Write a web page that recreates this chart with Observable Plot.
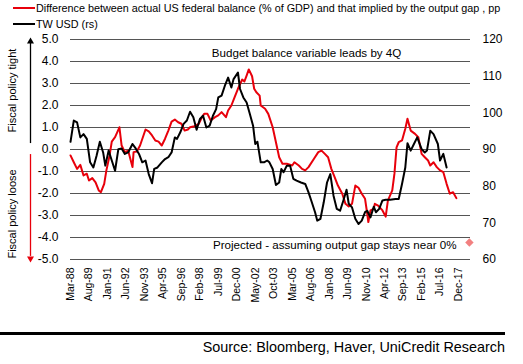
<!DOCTYPE html>
<html><head><meta charset="utf-8">
<script src="https://cdn.jsdelivr.net/npm/d3@7"></script>
<script src="https://cdn.jsdelivr.net/npm/@observablehq/plot@0.6"></script>
<style>
body{margin:0;background:#fff;font-family:"Liberation Sans",Arial,sans-serif;}
#wrap{position:relative;width:523px;height:364px;overflow:hidden;background:#fff}
.leg{position:absolute;left:13px;font-size:10.8px;line-height:14px;white-space:nowrap;color:#000}
.leg i{display:inline-block;width:22px;height:2px;vertical-align:middle;margin-right:1px;position:relative;top:-1px}
#chart{position:absolute;left:0;top:30px}
#rule{position:absolute;left:0;top:332px;width:505px;height:3px;background:#000}
#src{position:absolute;right:18px;top:339px;font-size:14.4px;line-height:16px;white-space:nowrap}
</style>
</head>
<body>
<div id="wrap">
  <div class="leg" style="top:1px"><i style="background:#e8000b"></i>Difference between actual US federal balance (% of GDP) and that implied by the output gap , pp</div>
  <div class="leg" style="top:17px"><i style="background:#000"></i>TW USD (rs)</div>
  <div id="chart"></div>
  <div id="rule"></div>
  <div id="src">Source: Bloomberg, Haver, UniCredit Research</div>
</div>
<script>
// ---- data ----
const fiscalDates = ["1988-03","1988-06","1988-09","1988-12","1989-03","1989-06","1989-08","1989-11","1990-02","1990-05","1990-07","1990-10","1990-12","1991-03","1991-05","1991-08","1991-12","1992-02","1992-05","1992-08","1992-12","1993-01","1993-04","1993-07","1993-12","1994-03","1994-06","1994-09","1994-12","1995-03","1995-06","1995-09","1995-12","1996-03","1996-06","1996-09","1996-12","1997-03","1997-05","1997-09","1998-01","1998-04","1998-06","1998-09","1998-12","1999-04","1999-07","1999-10","2000-02","2000-04","2000-07","2000-10","2001-01","2001-05","2001-07","2001-09","2001-11","2002-02","2002-04","2002-06","2002-09","2002-10","2003-02","2003-05","2003-09","2003-12","2004-03","2004-06","2004-10","2005-03","2005-05","2005-09","2005-12","2006-03","2006-06","2006-11","2007-03","2007-06","2007-09","2007-12","2008-03","2008-06","2008-09","2009-01","2009-04","2009-07","2009-10","2010-01","2010-04","2010-07","2010-10","2010-12","2011-01","2011-03","2011-06","2011-07","2011-10","2012-02","2012-05","2012-07","2012-11","2013-01","2013-03","2013-05","2013-08","2013-11","2014-01","2014-04","2014-08","2014-11","2015-02","2015-05","2015-08","2015-10","2016-01","2016-04","2016-07","2016-10","2017-01","2017-04","2017-07","2017-10"];
const fiscalValues = [-0.27,-0.58,-0.88,-0.70,-1.18,-1.10,-1.41,-1.30,-1.49,-1.86,-1.94,-1.56,-0.95,-0.27,0.36,0.56,1.01,0.18,-0.12,-0.05,-0.80,-0.12,-0.09,0.18,0.91,0.82,0.64,0.41,0.36,0.18,0.49,0.86,1.27,1.36,1.24,1.17,0.86,0.91,1.01,1.06,1.17,1.47,1.62,1.62,1.32,1.47,1.55,1.70,1.47,1.77,2.00,2.38,2.76,3.18,3.09,3.36,3.64,3.33,2.76,2.60,2.45,2.00,1.85,1.62,1.01,0.33,-0.35,-0.65,-0.65,-0.73,-0.58,-0.73,-0.88,-0.95,-0.80,-0.42,-0.12,-0.05,-0.20,-0.35,-0.88,-1.26,-1.64,-2.01,-2.47,-2.59,-2.47,-1.64,-1.74,-2.01,-2.24,-2.92,-3.30,-2.77,-2.70,-2.47,-2.55,-2.77,-3.05,-2.32,-1.86,-1.10,0.10,0.33,0.41,0.94,1.40,0.86,0.71,0.56,-0.20,-0.35,-0.50,-0.73,-0.58,-0.80,-0.95,-1.03,-1.56,-2.01,-1.94,-2.21];

const usdDates = ["1988-03","1988-06","1988-09","1988-12","1989-03","1989-06","1989-09","1989-12","1990-03","1990-06","1990-09","1990-11","1991-02","1991-05","1991-08","1991-11","1992-02","1992-05","1992-08","1992-12","1993-03","1993-06","1993-09","1993-12","1994-03","1994-06","1994-08","1994-11","1995-03","1995-06","1995-09","1995-12","1996-03","1996-05","1996-08","1996-11","1997-02","1997-05","1997-08","1997-11","1998-02","1998-05","1998-08","1998-11","1999-02","1999-05","1999-07","1999-10","2000-01","2000-04","2000-07","2000-09","2001-01","2001-03","2001-06","2001-09","2001-12","2002-03","2002-05","2002-07","2002-10","2003-01","2003-04","2003-06","2003-09","2003-12","2004-03","2004-05","2004-07","2004-10","2005-01","2005-04","2005-07","2005-11","2006-03","2006-06","2006-09","2006-12","2007-02","2007-05","2007-08","2007-11","2008-02","2008-05","2008-08","2008-11","2009-02","2009-05","2009-07","2009-10","2010-01","2010-04","2010-07","2010-10","2010-12","2011-03","2011-06","2011-08","2011-11","2012-02","2012-05","2012-09","2013-02","2013-05","2013-08","2013-11","2014-01","2014-04","2014-07","2014-10","2015-02","2015-05","2015-07","2015-10","2016-01","2016-05","2016-07","2016-10","2017-01"];
const usdValues = [92.1,97.9,97.4,93.3,94.2,92.9,86.5,85.1,88.3,92.1,89.2,85.6,89.7,87.0,84.2,90.1,90.3,88.8,89.2,91.5,90.3,88.8,86.5,87.0,83.3,80.8,84.7,85.1,86.5,87.4,87.9,89.2,93.3,92.9,94.7,97.0,97.9,100.3,98.8,95.4,98.3,99.2,96.0,96.5,99.2,101.0,104.2,104.7,107.4,109.6,106.9,109.2,111.0,106.5,104.2,102.8,99.7,96.5,91.5,92.1,86.5,86.5,87.0,86.5,84.7,80.3,81.0,84.7,83.8,85.6,85.6,82.0,81.5,81.0,80.6,78.3,75.6,72.9,70.6,71.1,75.6,81.0,83.3,77.4,73.8,73.3,76.1,79.0,75.2,74.2,71.1,69.7,70.6,72.9,73.3,71.5,74.4,72.9,73.8,76.1,76.3,76.3,76.5,76.5,80.6,85.1,91.7,89.7,91.5,93.3,90.1,89.2,89.7,95.1,94.2,91.5,87.0,88.8,85.1];

const projectedDate = "2018-10";
const projectedValue = -4.23;

const leftTicks = [5,4,3,2,1,0,-1,-2,-3,-4,-5];
const rightTicks = [120,110,100,90,80,70,60];
const xTickLabels = ["Mar-88","Aug-89","Jan-91","Jun-92","Nov-93","Apr-95","Sep-96","Feb-98","Jul-99","Dec-00","May-02","Oct-03","Mar-05","Aug-06","Jan-08","Jun-09","Nov-10","Apr-12","Sep-13","Feb-15","Jul-16","Dec-17"];
const xDomain = ["1988-03","2018-11"];

const annotations = [
  {date:"1999-01", value:4.38, text:"Budget balance variable leads by 4Q"},
  {date:"1999-02", value:-4.36, text:"Projected - assuming output gap stays near 0%"}
];

// ---- build ----
const pm = d3.utcParse("%Y-%m");
const pl = d3.utcParse("%b-%y");
const fiscal = fiscalDates.map((d,i)=>({date:pm(d), value:fiscalValues[i]}));
const usd = usdDates.map((d,i)=>({date:pm(d), value:usdValues[i]}));
const toLeft = v => (v - 90) / 6;   // right axis 60..120 -> left -5..5
const xTicks = xTickLabels.map(pl);
const x0 = pm(xDomain[0]);
const font = '"Liberation Sans", Arial, sans-serif';

const chart = Plot.plot({
  width: 523, height: 300,
  marginTop: 9, marginBottom: 71, marginLeft: 70, marginRight: 53,
  x: {type: "utc", domain: xDomain.map(pm)},
  y: {domain: [-5, 5]},
  style: {fontFamily: font, fontSize: "12px", background: "transparent", color: "#000"},
  marks: [
    Plot.gridY(leftTicks, {stroke: "#555", strokeOpacity: 1, strokeWidth: 1}),
    Plot.axisY(leftTicks, {anchor: "left", tickSize: 0, tickPadding: 12, tickFormat: d => d.toFixed(1), fontSize: 12, label: null}),
    Plot.axisY(rightTicks.map(toLeft), {anchor: "right", tickSize: 0, tickPadding: 12, tickFormat: d => String(Math.round(d * 6 + 90)), fontSize: 12, label: null}),
    Plot.axisX(xTicks, {anchor: "bottom", tickSize: 0, tickPadding: 8, tickRotate: -90, tickFormat: d3.utcFormat("%b-%y"), fontSize: 10.5, label: null}),
    Plot.line(fiscal, {x: "date", y: "value", stroke: "#e8000b", strokeWidth: 2}),
    Plot.line(usd, {x: "date", y: d => toLeft(d.value), stroke: "#000", strokeWidth: 2}),
    Plot.dot([{date: pm(projectedDate), value: projectedValue}], {x: "date", y: "value", symbol: "diamond2", r: 3.8, fill: "#f28080", stroke: "none"}),
    Plot.text(annotations, {x: d => pm(d.date), y: "value", text: "text", textAnchor: "start", fontSize: 11.6}),
    // margin arrows and labels
    Plot.ruleX([x0], {x: d => d, y1: 0.27, y2: 4.82, dx: -40, stroke: "#000", strokeWidth: 1.3}),
    Plot.dot([x0], {x: d => d, y: 4.91, dx: -40, symbol: "triangle", r: 2.6, fill: "#000", stroke: "none"}),
    Plot.ruleX([x0], {x: d => d, y1: -0.23, y2: -4.86, dx: -40, stroke: "#e8000b", strokeWidth: 1.3}),
    Plot.dot([x0], {x: d => d, y: -4.95, dx: -40, symbol: "triangle", rotate: 180, r: 2.6, fill: "#e8000b", stroke: "none"}),
    Plot.text([{t: "Fiscal policy tight", v: 2.68}, {t: "Fiscal policy loose", v: -2.93}], {x: () => x0, y: "v", text: "t", rotate: -90, dx: -58, fontSize: 11, textAnchor: "middle"})
  ]
});
document.getElementById("chart").appendChild(chart);
</script>
</body></html>
